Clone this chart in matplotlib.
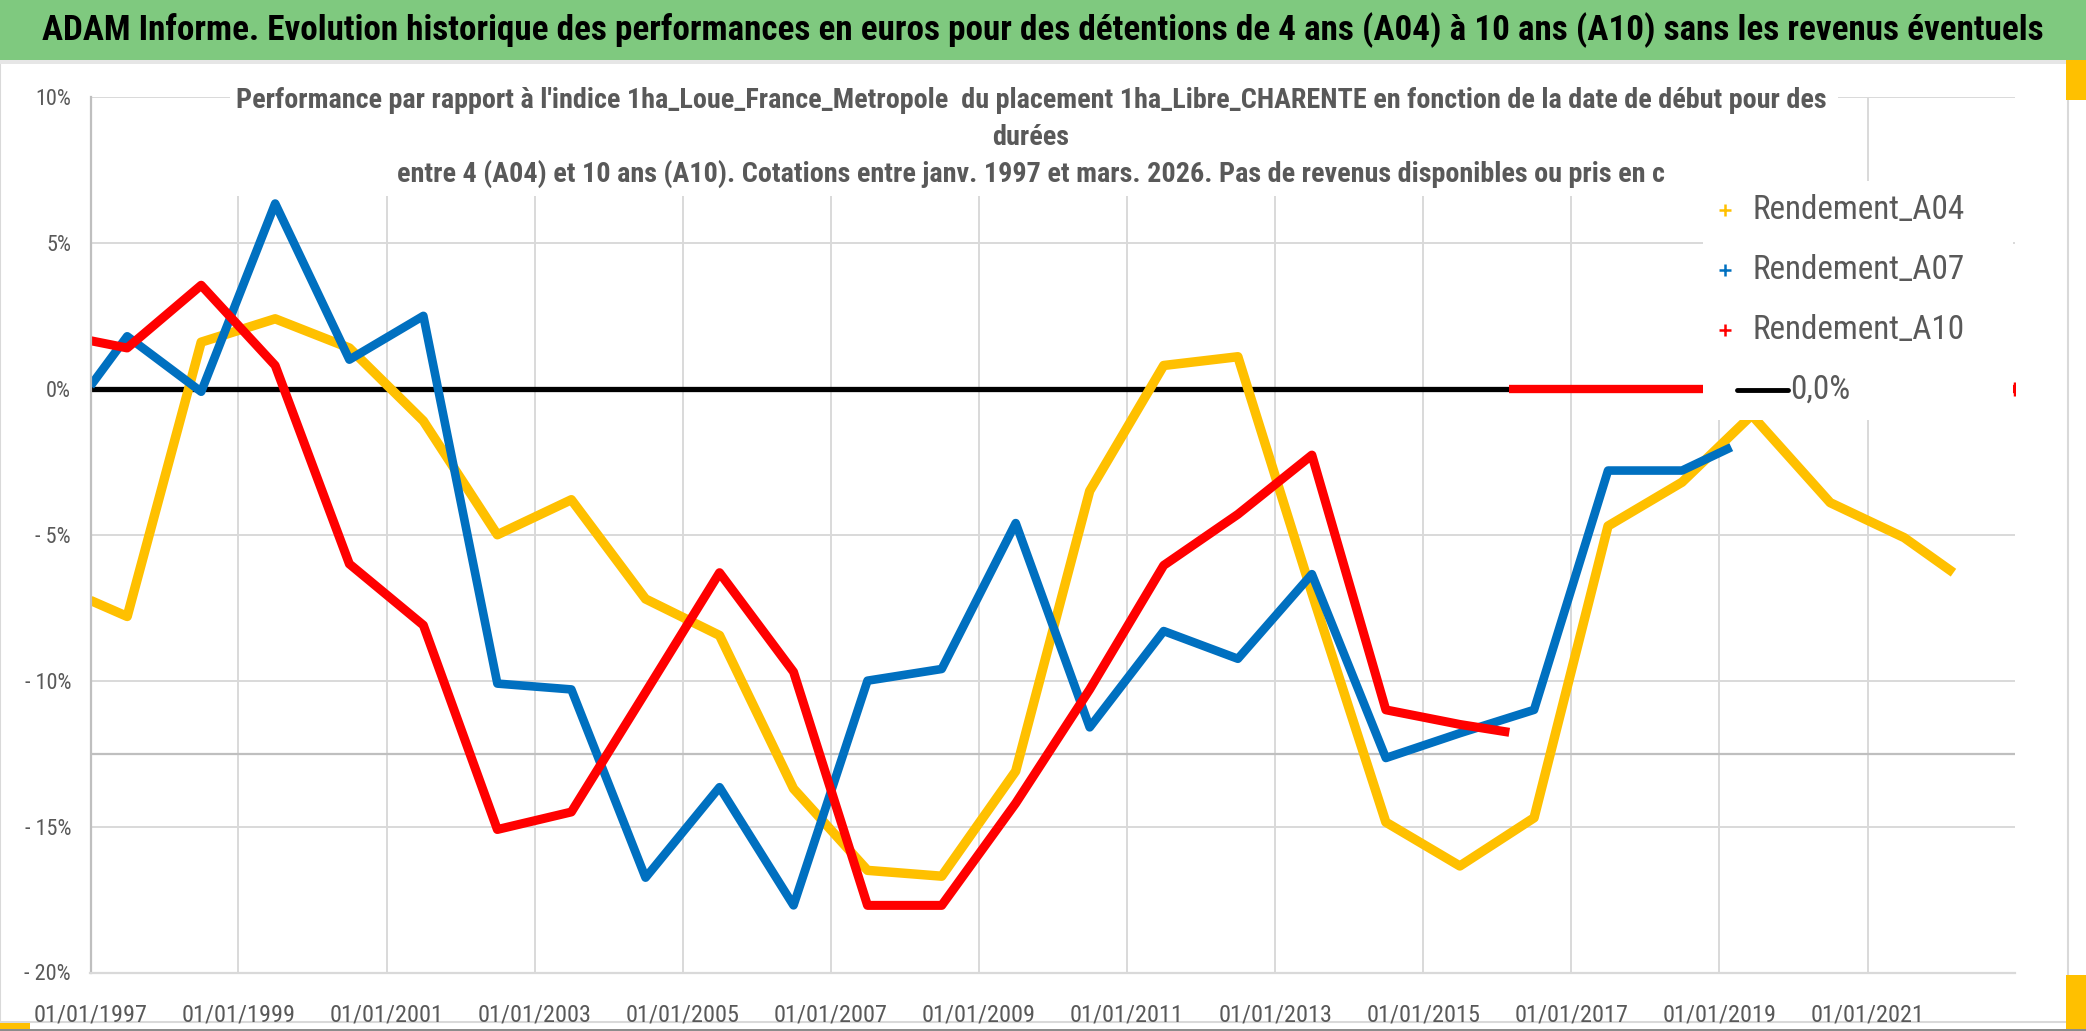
import matplotlib
matplotlib.use("Agg")
import matplotlib.pyplot as plt
import matplotlib.dates as mdates
import pandas as pd
from matplotlib.patches import Rectangle
from matplotlib.ticker import FixedLocator, FuncFormatter
from matplotlib import font_manager as fm

# ---------------- data ----------------
title = ("ADAM Informe. Evolution historique des performances en euros pour des "
         "détentions de 4 ans (A04) à 10 ans (A10) sans les revenus éventuels")
subtitle_lines = [
    "Performance par rapport à l'indice 1ha_Loue_France_Metropole  du placement "
    "1ha_Libre_CHARENTE en fonction de la date de début pour des",
    "durées",
    "entre 4 (A04) et 10 ans (A10). Cotations entre janv. 1997 et mars. 2026. "
    "Pas de revenus disponibles ou pris en c",
]

dates_a04 = ["1997-01-01", "1997-07-01", "1998-07-01", "1999-07-01", "2000-07-01",
             "2001-07-01", "2002-07-01", "2003-07-01", "2004-07-01", "2005-07-01",
             "2006-07-01", "2007-07-01", "2008-07-01", "2009-07-01", "2010-07-01",
             "2011-07-01", "2012-07-01", "2013-07-01", "2014-07-01", "2015-07-01",
             "2016-07-01", "2017-07-01", "2018-07-01", "2019-06-10", "2020-07-01",
             "2021-07-01", "2022-03-01"]
rend_a04 = [-7.25, -7.8, 1.6, 2.4, 1.4, -1.1, -5.0, -3.8, -7.2, -8.45, -13.7, -16.5,
            -16.7, -13.1, -3.5, 0.8, 1.1, -7.0, -14.85, -16.35, -14.7, -4.7, -3.2,
            -0.9, -3.9, -5.1, -6.3]

dates_a07 = ["1997-01-01", "1997-07-01", "1998-07-01", "1999-07-01", "2000-07-01",
             "2001-07-01", "2002-07-01", "2003-07-01", "2004-07-01", "2005-07-01",
             "2006-07-01", "2007-07-01", "2008-07-01", "2009-07-01", "2010-07-01",
             "2011-07-01", "2012-07-01", "2013-07-01", "2014-07-01", "2015-07-01",
             "2016-07-01", "2017-07-01", "2018-07-01", "2019-03-01"]
rend_a07 = [0.1, 1.8, -0.1, 6.35, 1.0, 2.5, -10.1, -10.3, -16.75, -13.65, -17.7,
            -10.0, -9.6, -4.6, -11.6, -8.3, -9.25, -6.35, -12.65, -11.8, -11.0,
            -2.8, -2.8, -2.0]

dates_a10 = ["1997-01-01", "1997-07-01", "1998-07-01", "1999-07-01", "2000-07-01",
             "2001-07-01", "2002-07-01", "2003-07-01", "2004-07-01", "2005-07-01",
             "2006-07-01", "2007-07-01", "2008-07-01", "2009-07-01", "2010-07-01",
             "2011-07-01", "2012-07-01", "2013-07-01", "2014-07-01", "2015-07-01",
             "2016-03-01"]
rend_a10 = [1.65, 1.4, 3.55, 0.8, -6.0, -8.1, -15.1, -14.5, -10.4, -6.3, -9.7,
            -17.7, -17.7, -14.2, -10.3, -6.05, -4.3, -2.27, -11.0, -11.5, -11.77]

dates_a10_zero = ["2016-03-01", "2023-01-01"]
rend_a10_zero = [0.0, 0.0]

dates_ref = ["1997-01-01", "2023-01-01"]
ref_zero = [0.0, 0.0]

ref_line_level = -12.5
tick_years = [1997, 1999, 2001, 2003, 2005, 2007, 2009, 2011, 2013, 2015, 2017, 2019, 2021]
y_ticks = [10, 5, 0, -5, -10, -15, -20]
legend_labels = ["Rendement_A04", "Rendement_A07", "Rendement_A10", "0,0%"]

# ---------------- style ----------------
C_A04 = "#FFC000"
C_A07 = "#0070C0"
C_A10 = "#FF0000"
GRAY_TXT = "#595959"
GRID = "#D9D9D9"
GREEN = "#7FC97F"

# pick a condensed face if one is installed
_names = {f.name for f in fm.fontManager.ttflist}
_cond = [n for n in ["Liberation Sans Narrow", "DejaVu Sans Condensed", "Roboto Condensed",
                     "Open Sans Condensed"] if n in _names]
NARROW = (_cond[:1] or []) + ["DejaVu Sans"]
STRETCH = "normal" if _cond else "condensed"
plt.rcParams["font.family"] = NARROW
plt.rcParams["font.stretch"] = STRETCH

W, H = 2086, 1031
fig = plt.figure(figsize=(W / 100, H / 100), dpi=100)
fig.patch.set_facecolor("white")

AX_L, AX_R, AX_T, AX_B = 90.5, 2015.5, 97.0, 972.5
ax = fig.add_axes([AX_L / W, 1 - AX_B / H, (AX_R - AX_L) / W, (AX_B - AX_T) / H])
ax.set_zorder(2)
ax.patch.set_alpha(0)


def axc(px, py):
    return (px - AX_L) / (AX_R - AX_L), (AX_B - py) / (AX_B - AX_T)


# outer chart frame and header band (behind the axes)
fig.patches.append(Rectangle((0, 1 - 1022 / H), 2068 / W, (1022 - 60) / H,
                             transform=fig.transFigure, facecolor="white",
                             edgecolor=GRID, lw=1.5, zorder=0.1))
fig.patches.append(Rectangle((0, 1 - 60 / H), 1, 60 / H, transform=fig.transFigure,
                             facecolor=GREEN, edgecolor="none", zorder=0.2))
fig.patches.append(Rectangle((0, 1 - 64 / H), 1, 4 / H, transform=fig.transFigure,
                             facecolor="#E6E6E6", edgecolor="none", zorder=0.2))
for (x0, y0, w, h) in [(0, 1023, 30, 8), (2066, 60, 20, 40), (2066, 975, 20, 56)]:
    fig.patches.append(Rectangle((x0 / W, 1 - (y0 + h) / H), w / W, h / H,
                                 transform=fig.transFigure, facecolor=C_A04,
                                 edgecolor="none", zorder=0.2))
fig.patches.append(Rectangle((0, 0), 1, 2 / H, transform=fig.transFigure,
                             facecolor="#8C8C8C", edgecolor="none", zorder=0.2))

t = fig.text(0.5, 1 - 30 / H, title, ha="center", va="center", fontsize=24,
             fontweight="bold", color="black", family=NARROW, fontstretch=STRETCH,
             zorder=3)

# ---------------- series ----------------
d04 = pd.to_datetime(dates_a04)
d07 = pd.to_datetime(dates_a07)
d10 = pd.to_datetime(dates_a10)
d10z = pd.to_datetime(dates_a10_zero)
dref = pd.to_datetime(dates_ref)

ax.plot(dref, ref_zero, color="black", lw=3.8, zorder=2, solid_capstyle="butt")
ax.plot(d04, rend_a04, color=C_A04, lw=6.8, zorder=2.2, solid_joinstyle="round",
        solid_capstyle="butt")
ax.plot(d07, rend_a07, color=C_A07, lw=6.2, zorder=2.3, solid_joinstyle="round",
        solid_capstyle="butt")
ax.plot(d10, rend_a10, color=C_A10, lw=6.5, zorder=2.4, solid_joinstyle="round",
        solid_capstyle="butt")
ax.plot(d10z, rend_a10_zero, color=C_A10, lw=6.0, zorder=2.5, marker="+",
        markevery=[1], markersize=10, mew=2.5, solid_capstyle="butt")
ax.axhline(ref_line_level, color="#BFBFBF", lw=1.6, zorder=1.5)

ax.set_xlim(pd.Timestamp("1997-01-01"), pd.Timestamp("2023-01-01"))
ax.set_ylim(-20, 10)

tick_dates = pd.to_datetime([f"{y}-01-01" for y in tick_years])
ax.xaxis.set_major_locator(FixedLocator(mdates.date2num(tick_dates)))
ax.xaxis.set_major_formatter(mdates.DateFormatter("%d/%m/%Y"))
ax.yaxis.set_major_locator(FixedLocator(y_ticks))
ax.yaxis.set_major_formatter(FuncFormatter(
    lambda v, p: f"{int(round(v))}%" if v >= 0 else f"- {int(round(-v))}%"))

ax.set_axisbelow(True)
ax.grid(True, color=GRID, lw=1.4)
for s in ["top", "right"]:
    ax.spines[s].set_visible(False)
ax.spines["left"].set_color("#BFBFBF")
ax.spines["left"].set_linewidth(1.6)
ax.spines["bottom"].set_color(GRID)
ax.spines["bottom"].set_linewidth(1.6)
ax.tick_params(axis="both", length=0, colors=GRAY_TXT, labelsize=17.5)
ax.tick_params(axis="x", pad=22)
ax.tick_params(axis="y", pad=14, labelsize=16)
for lab in ax.get_xticklabels() + ax.get_yticklabels():
    lab.set_family(NARROW)
    lab.set_fontstretch(STRETCH)

# ---------------- subtitle (white box hides gridlines) ----------------
x0, y0 = axc(230, 196)
x1, y1 = axc(1838, 78)
ax.add_patch(Rectangle((x0, y0), x1 - x0, y1 - y0, transform=ax.transAxes,
                       facecolor="white", edgecolor="none", zorder=4, clip_on=False))
sub_texts = []
for i, line in enumerate(subtitle_lines):
    sub_texts.append(fig.text(1031 / W, 1 - (100 + 37 * i) / H, line, ha="center",
                              va="center", fontsize=18, fontweight="bold",
                              color=GRAY_TXT, family=NARROW, fontstretch=STRETCH,
                              zorder=5))

# ---------------- legend (manual, Excel-like) ----------------
lx0, ly0 = axc(1703, 420)
lx1, ly1 = axc(2013, 181)
ax.add_patch(Rectangle((lx0, ly0), lx1 - lx0, ly1 - ly0, transform=ax.transAxes,
                       facecolor="white", edgecolor="none", zorder=6, clip_on=False))
leg_rows_py = [210, 270, 330, 390]
leg_colors = [C_A04, C_A07, C_A10]
leg_texts = []
for i, lab in enumerate(legend_labels):
    _, ly = axc(0, leg_rows_py[i])
    if i < 3:
        mx, _ = axc(1725, 0)
        ax.plot([mx], [ly], marker="+", color=leg_colors[i], markersize=8, mew=1.8,
                transform=ax.transAxes, clip_on=False, zorder=7)
        tx, _ = axc(1753, 0)
    else:
        ax_a, _ = axc(1737, 0)
        ax_b, _ = axc(1788, 0)
        ax.plot([ax_a, ax_b], [ly, ly], color="black", lw=3.5,
                transform=ax.transAxes, clip_on=False, zorder=7,
                solid_capstyle="round")
        tx, _ = axc(1790, 0)
    leg_texts.append(ax.text(tx, ly, lab, transform=ax.transAxes, ha="left",
                             va="center", fontsize=19, color=GRAY_TXT,
                             family=NARROW, fontstretch=STRETCH, zorder=8))

# ---------------- fit text widths to the reference ----------------
fig.canvas.draw()
r = fig.canvas.get_renderer()


def fit(txt, target):
    w = txt.get_window_extent(r).width
    txt.set_fontsize(txt.get_fontsize() * target / w)


fit(t, 2008)
fit(sub_texts[0], 1588)
for s in sub_texts[1:]:
    s.set_fontsize(sub_texts[0].get_fontsize())
fit(leg_texts[0], 213)
for s in leg_texts[1:]:
    s.set_fontsize(leg_texts[0].get_fontsize())

fig.savefig("out.png", dpi=100)
